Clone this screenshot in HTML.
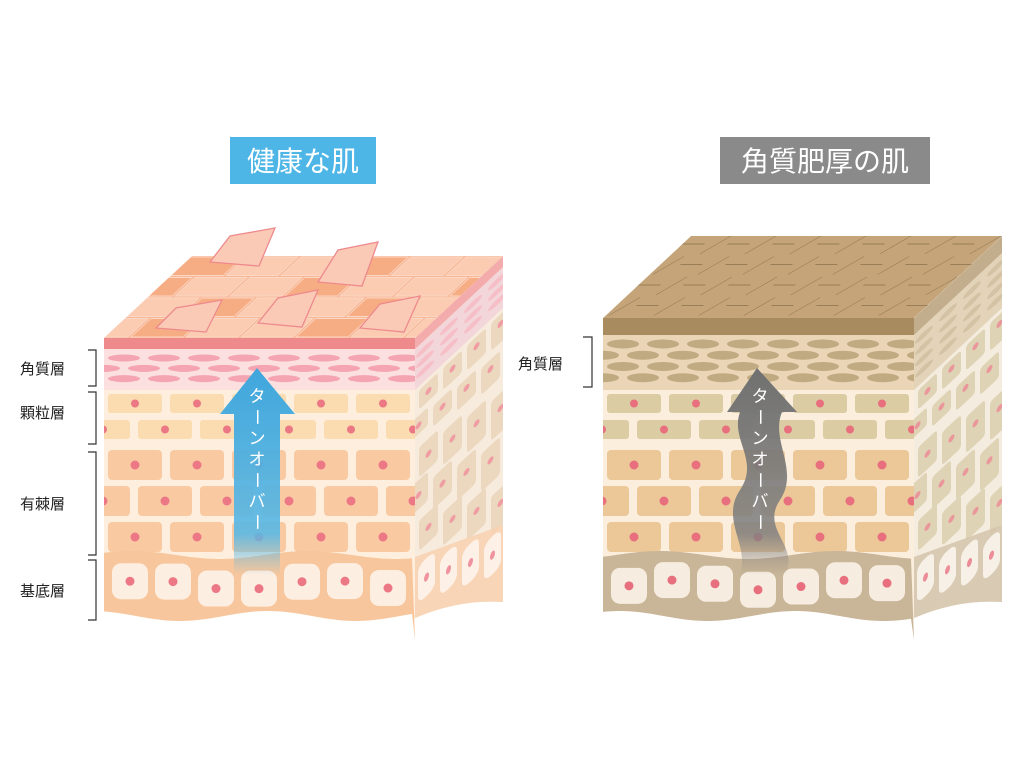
<!DOCTYPE html>
<html><head><meta charset="utf-8"><style>
html,body{margin:0;padding:0;background:#fff;width:1024px;height:759px;overflow:hidden}
svg{display:block}
text{font-family:"Liberation Sans","Noto Sans CJK JP",sans-serif}
</style></head><body>
<svg id="s" width="1024" height="759" viewBox="0 0 1024 759" xmlns="http://www.w3.org/2000/svg">
<defs id="defs">
<linearGradient id="bl" x1="0" y1="0" x2="0" y2="1"><stop offset="0" stop-color="#3fa6dc"/><stop offset="0.8" stop-color="#5ab8e4" stop-opacity="0.9"/><stop offset="1" stop-color="#5ab8e4" stop-opacity="0"/></linearGradient>
<linearGradient id="gr" x1="0" y1="0" x2="0" y2="1"><stop offset="0" stop-color="#707070"/><stop offset="0.8" stop-color="#808080" stop-opacity="0.85"/><stop offset="1" stop-color="#808080" stop-opacity="0"/></linearGradient>
</defs>
<rect x="230" y="137" width="146" height="47" fill="#4db6e6"/>
<text x="303" y="171" font-size="28" fill="#fff" text-anchor="middle">健康な肌</text>
<rect x="720" y="137" width="210" height="47" fill="#8a8a8a"/>
<text x="825" y="171" font-size="28" fill="#fff" text-anchor="middle">角質肥厚の肌</text>
<g font-size="15" fill="#222">
<text x="20" y="374">角質層</text><text x="20" y="418">顆粒層</text><text x="20" y="509">有棘層</text><text x="20" y="596">基底層</text>
<text x="518" y="369">角質層</text>
</g>
<g stroke="#333" stroke-width="1.2" fill="none">
<path d="M88 350H96V386H88"/><path d="M88 392H96V444H88"/><path d="M88 452H96V555H88"/><path d="M88 560H96V620H88"/>
<path d="M583 337H592V387H583"/>
</g>
<g id="c"></g>
</svg>
<script>
const NS="http://www.w3.org/2000/svg",root=document.getElementById('c'),defs=document.getElementById('defs');
let cid=0;
function el(t,a,p){const e=document.createElementNS(NS,t);for(const k in a)e.setAttribute(k,a[k]);(p||root).appendChild(e);return e;}
function clip(x,y,w,h){const id='cp'+(cid++);const c=el('clipPath',{id:id,clipPathUnits:'userSpaceOnUse'},defs);el('rect',{x:x,y:y,width:w,height:h},c);return 'url(#'+id+')';}
function clipP(d){const id='cp'+(cid++);const c=el('clipPath',{id:id,clipPathUnits:'userSpaceOnUse'},defs);el('path',{d:d},c);return 'url(#'+id+')';}
function wave(x0,x1,y,amp,ph){let d='';for(let x=x0;x<=x1;x+=4){d+=(x==x0?'M':'L')+x+' '+(y+amp*Math.sin((x+ph)/28)).toFixed(1);}return d;}
function cube(X,Y,P,thick){
 const W=311,R=X+W,B=620,dx=88,dy=-82,s=dy/dx,k=dx/(-dy);
 const g=el('g',{});
 const fg=el('g',{'clip-path':clip(X,Y,W,B-Y+20)},g);
 el('rect',{x:X,y:Y,width:W,height:B-Y,fill:P.spBg},fg);
 const bandH=thick?17:11; const cE=Y+bandH+(thick?55:41);
 el('rect',{x:X,y:Y+bandH,width:W,height:cE-Y-bandH,fill:P.cBg},fg);
 const rows=thick?4:3;
 for(let r=0;r<rows;r++){const yy=Y+bandH+9+r*((cE-Y-bandH-10)/rows);
  for(let i=-1;i<9;i++){el('ellipse',{cx:X+20+i*40+(r%2)*20,cy:yy,rx:16,ry:thick?4.5:3.5,fill:P.ell},fg);}}
 el('rect',{x:X,y:Y,width:W,height:bandH,fill:P.band},fg);
 const gy=cE+4;
 for(let r=0;r<2;r++){for(let i=-1;i<7;i++){const cx=X+i*62+(r?30:0);el('rect',{x:cx+4,y:gy+r*26,width:54,height:19,rx:3,fill:P.gr},fg);el('circle',{cx:cx+31,cy:gy+r*26+9.5,r:4,fill:P.dot},fg);}}
 const sy=gy+56;
 for(let r=0;r<3;r++){for(let i=-1;i<7;i++){const cx=X+i*62+(r%2?30:0);el('rect',{x:cx+4,y:sy+r*36,width:54,height:30,rx:4,fill:P.sp},fg);el('circle',{cx:cx+31,cy:sy+r*36+15,r:4.5,fill:P.dot},fg);}}
 const by=555;
 el('path',{d:wave(X,R,by,4,0)+` L${R} ${B+20} L${X} ${B+20}Z`,fill:P.bBg},fg);
 for(let i=0;i<7;i++){const cx=X+8+i*43,cy=by+12+5*Math.sin((cx)/28);el('rect',{x:cx,y:cy,width:36,height:36,rx:9,fill:P.bc},fg);el('circle',{cx:cx+18,cy:cy+18,r:4.5,fill:P.dot},fg);}
 el('path',{d:wave(X,R,B-4,5,40)+` L${R} ${B+20} L${X} ${B+20}Z`,fill:'#fff'},fg);
 // side (local coords: bottom at back = 600+82 = 682)
 const sgT=el('g',{transform:`matrix(1,${s},0,1,0,${-R*s})`},g);
 const sg=el('g',{'clip-path':clipP(`M${R} ${Y} L${R+dx} ${Y} L${R+dx} 684 Q${R+dx/2} 640 ${R} 618Z`)},sgT);
 const Xs=R;
 el('rect',{x:Xs,y:Y,width:dx,height:400,fill:P.sideBg},sg);
 el('rect',{x:Xs,y:Y+bandH,width:dx,height:cE-Y-bandH,fill:P.sideC},sg);
 for(let r=0;r<rows;r++)for(let i=0;i<4;i++)el('ellipse',{cx:Xs+10+i*24,cy:Y+bandH+9+r*((cE-Y-bandH-10)/rows),rx:9,ry:3,fill:P.ell,opacity:.7},sg);
 // cells layers in side grow toward back
 const ys=[gy,gy+26,sy,sy+36,sy+72],hs=[19,19,30,30,30];
 for(let r=0;r<5;r++)for(let i=0;i<4;i++){const xx=Xs+4+i*24-(r%2)*10;const grow=(xx-Xs)*0.25*(r-0);el('rect',{x:xx,y:ys[r]+grow*0.6,width:19,height:hs[r]+ (xx-Xs)*0.12,rx:3,fill:P.sideCell},sg);el('circle',{cx:xx+9.5,cy:ys[r]+grow*0.6+hs[r]/2,r:3,fill:P.dot,opacity:.85},sg);}
 // basal band on side: sloped
 el('path',{d:`M${Xs} ${by+2} L${Xs+dx} ${by+52} L${Xs+dx} 700 L${Xs} 700Z`,fill:P.bBg,opacity:.85},sg);
 for(let i=0;i<4;i++){const xx=Xs+3+i*22,yy=by+12+(xx-Xs)*0.6;el('rect',{x:xx,y:yy,width:17,height:38,rx:7,fill:P.bc},sg);el('ellipse',{cx:xx+8.5,cy:yy+19,rx:2.5,ry:4,fill:P.dot},sg);}
 el('rect',{x:Xs,y:Y,width:dx,height:bandH,fill:P.band,opacity:.85},sg);
 el('rect',{x:Xs,y:Y,width:dx,height:400,fill:'#fff',opacity:.2},sg);
 // top
 const tgT=el('g',{transform:`matrix(1,0,${-k},1,${Y*k},0)`},g);
 const tg=el('g',{'clip-path':clip(X,Y+dy,W,-dy)},tgT);
 el('rect',{x:X,y:Y+dy,width:W,height:-dy,fill:P.top},tg);
 return {tg,X,Y,W,dy};
}
const L=cube(104,338,{spBg:'#fdeedd',cBg:'#fce0e0',ell:'#f5a4b2',band:'#ef8a8c',gr:'#fbdcb0',sp:'#f9caa2',dot:'#ec7886',bBg:'#f8c69c',bc:'#fdeee2',sideBg:'#f6e6d6',sideC:'#f0ccd0',sideCell:'#e6cfae',top:'#f8b896'});
for(let r=0;r<4;r++)for(let i=-1;i<7;i++){const x=104+i*55+(r%2)*26,y=338-82+r*20.5;el('rect',{x:x,y:y+1,width:52,height:18.5,fill:((i+r)%3==0)?'#f7ad84':'#fbcbb2',stroke:'#fbd8c6','stroke-width':1},L.tg);}
[[210,262,275,228],[318,282,378,242],[156,328,222,300],[258,323,318,290],[360,328,420,296]].forEach(f=>{const[x1,y1,x2,y2]=f;el('path',{d:`M${x1} ${y1} L${x1+20} ${y2+8} L${x2} ${y2} L${x2-16} ${y1+4}Z`,fill:'#fbcab6',stroke:'#ee8a8e','stroke-width':1.3});});
const Rr=cube(603,318,{spBg:'#fbeedd',cBg:'#ead6b6',ell:'#c0aa82',band:'#a88b5e',gr:'#dccca4',sp:'#ecc898',dot:'#e8707e',bBg:'#c9b597',bc:'#f6ede0',sideBg:'#f2e8d6',sideC:'#ddc9a8',sideCell:'#d8c8a4',top:'#c4a478'},true);
for(let r=0;r<4;r++)for(let i=-1;i<8;i++){const x=603+i*45+(r%2)*20,y=318-82+r*20.5+8;el('line',{x1:x,y1:y,x2:x+22,y2:y,stroke:'#9a7e58','stroke-width':1},Rr.tg);el('line',{x1:x+28,y1:y+10,x2:x+40,y2:y-8,stroke:'#9a7e58','stroke-width':1},Rr.tg);}
el('path',{d:'M234 414 L220 414 L257 368 L295 414 L280 414 L280 575 L234 575Z',fill:'url(#bl)'});
el('path',{d:'M740 412 L727 412 L757 368 L797 412 L782 412 C770 440 800 470 780 500 C760 530 800 545 785 575 L740 575 C750 545 720 520 740 490 C760 460 730 440 740 412Z',fill:'url(#gr)'});
const tt='ターンオーバー';
[257,760].forEach(cx=>{for(let i=0;i<tt.length;i++){const ch=tt[i];const t=el('text',{x:cx,y:402+i*21,'font-size':17,fill:'#fff','text-anchor':'middle'});t.textContent=ch;if(ch=='ー')t.setAttribute('transform',`rotate(90 ${cx} ${396+i*21})`);}});
</script>
</body></html>
